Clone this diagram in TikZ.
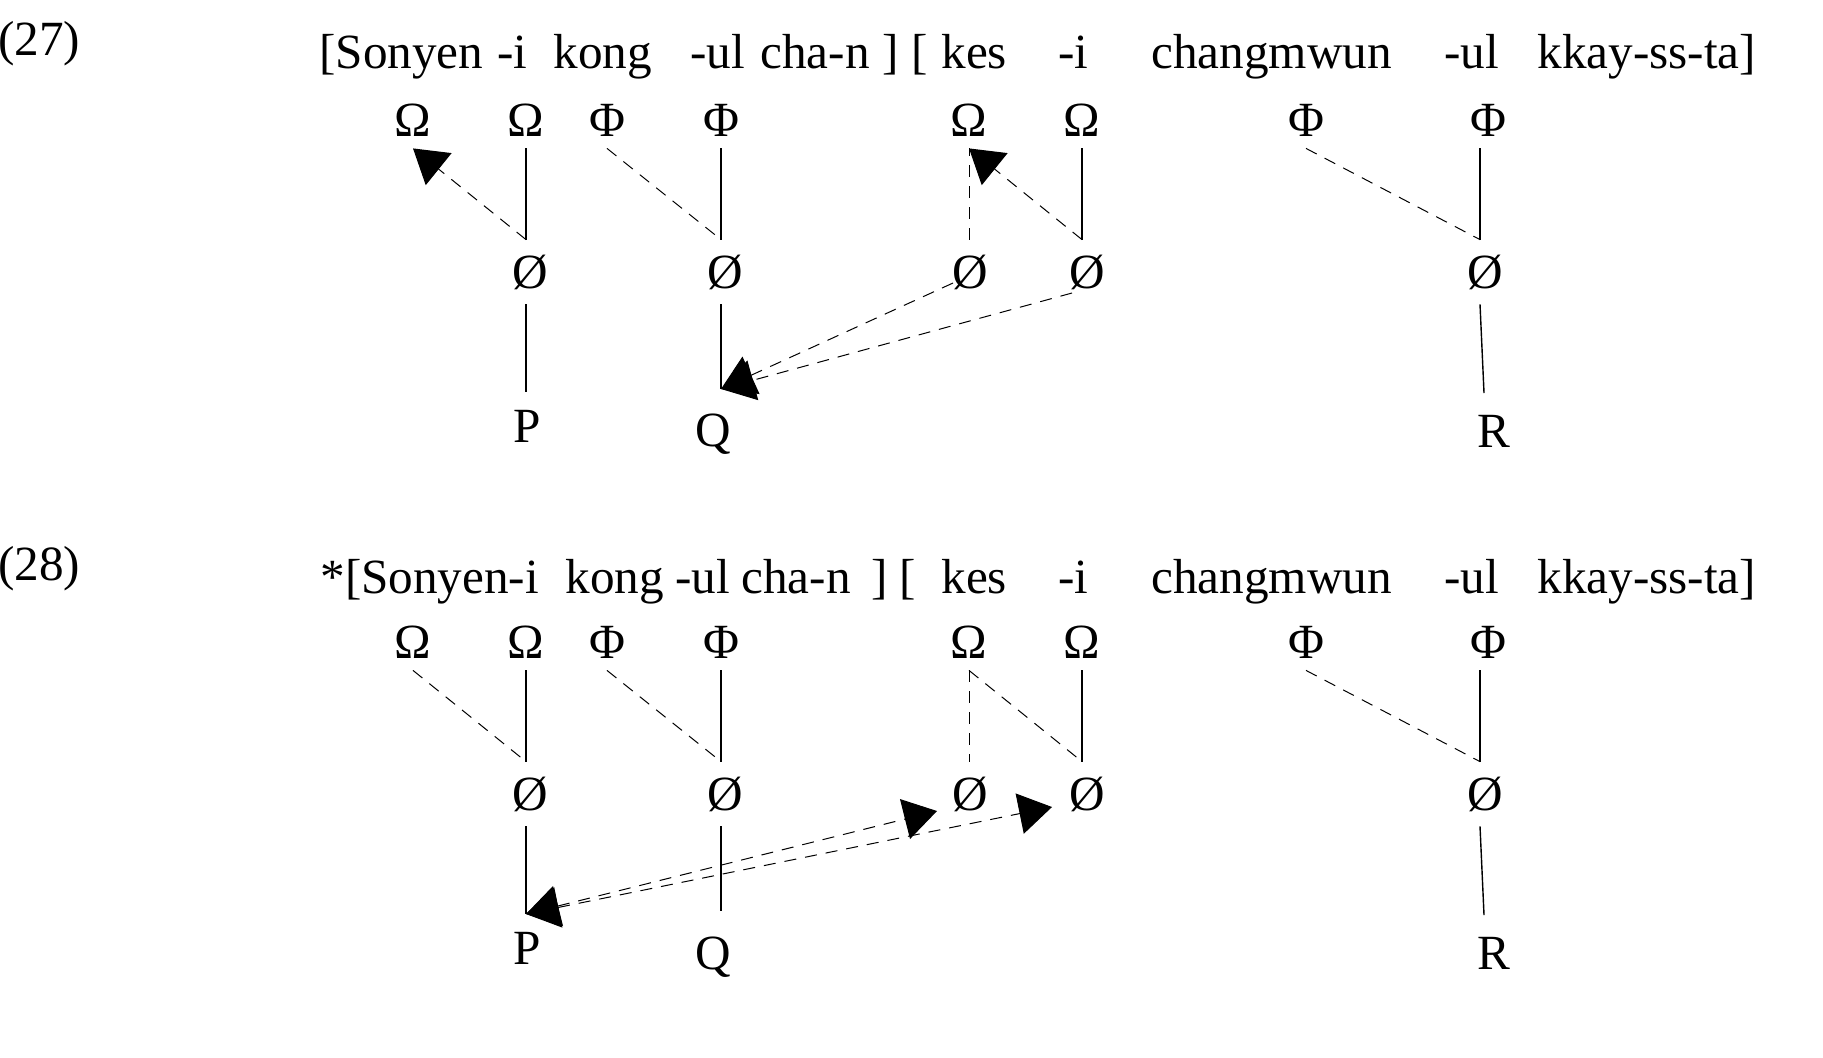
\documentclass[tikz,border=0pt]{standalone}
\usepackage{fontspec}
\setmainfont{Liberation Serif}
\usetikzlibrary{arrows.meta}
\begin{document}
\begin{tikzpicture}[x=0.5pt,y=-0.5pt,
  fnt/.style={font=\fontsize{24.6}{29}\selectfont},
  txt/.style={fnt, inner sep=0pt, anchor=base west},
  gk/.style={fnt, inner sep=0pt, minimum height=28pt},
  nul/.style={fnt, inner sep=0pt, minimum height=32pt},
  leaf/.style={fnt, inner xsep=0pt, anchor=north},
  solidl/.style={line width=0.7pt},
  dashl/.style={line width=0.5pt, dash pattern=on 6pt off 4.5pt},
  arr/.style={-{Triangle[length=16.5pt,width=20.5pt]}},
  darr/.style={{Triangle[length=16.5pt,width=20.5pt]}-{Triangle[length=16.5pt,width=20.5pt]}}
]
\useasboundingbox (0,0) rectangle (1823,1057);

% ---------------- (27) ----------------
\node[txt] (lab27) at (-2,55) {(27)};
\node[txt] (w1) at (319,68) {[Sonyen};
\node[txt] (w2) at (497,68) {-i};
\node[txt] (w3) at (553,68) {kong};
\node[txt] (w4) at (690,68) {-ul};
\node[txt] (w5) at (760,68) {cha-n};
\node[txt] (w6) at (882,68) {]};
\node[txt] (w7) at (911,68) {[};
\node[txt] (w8) at (941,68) {kes};
\node[txt] (w9) at (1058,68) {-i};
\node[txt] (w10) at (1151,68) {changmwun};
\node[txt] (w11) at (1444,68) {-ul};
\node[txt] (w12) at (1537,68) {kkay-ss-ta]};

\node[gk] (aO1) at (413,120) {Ω};
\node[gk] (aO2) at (526,120) {Ω};
\node[gk] (aF1) at (607,120) {Φ};
\node[gk] (aF2) at (721,120) {Φ};
\node[gk] (aO3) at (969,120) {Ω};
\node[gk] (aO4) at (1082,120) {Ω};
\node[gk] (aF3) at (1306,120) {Φ};
\node[gk] (aF4) at (1488,120) {Φ};

\node[nul] (aZ1) at (530,272) {Ø};
\node[nul] (aZ2) at (725,272) {Ø};
\node[nul] (aZ3) at (970,272) {Ø};
\node[nul] (aZ4) at (1087,272) {Ø};
\node[nul] (aZ5) at (1485,272) {Ø};

\node[leaf, inner ysep=9pt] (aP) at (527,392) {P};
\node[leaf, inner ysep=12.5pt] (aQ) at (713,389) {Q};
\node[leaf, inner ysep=11pt] (aR) at (1494,393) {R};

\draw[solidl] (aO2.south) -- (aO2.south |- aZ1.north);
\draw[dashl,arr] (aO2.south |- aZ1.north) -- (aO1.south);
\draw[dashl] (aF1.south) -- (aF2.south |- aZ2.north);
\draw[solidl] (aF2.south) -- (aF2.south |- aZ2.north);
\draw[solidl] (aO2.south |- aZ1.south) -- (aO2.south |- aP.north);
\draw[solidl] (aF2.south |- aZ2.south) -- (aF2.south |- aQ.north);
\draw[dashl] (aO3.south |- aZ3.north) -- (aO3.south);
\draw[dashl,arr] (aO4.south |- aZ4.north) -- (aO3.south);
\draw[solidl] (aO4.south) -- (aO4.south |- aZ4.north);
\draw[dashl,arr] ([shift={(-17,11)}]aZ3.center) -- (aF2.south |- aQ.north);
\draw[dashl,arr] ([shift={(-15,21)}]aZ4.center) -- (aF2.south |- aQ.north);
\draw[dashl] (aF3.south) -- ([xshift=-4pt]aF4.south |- aZ5.north);
\draw[solidl] ([xshift=-4pt]aF4.south) -- ([xshift=-4pt]aF4.south |- aZ5.north);
\draw[solidl] ([xshift=-4pt]aF4.south |- aZ5.south) -- ([xshift=-5pt]aR.north);

% ---------------- (28) ----------------
\node[txt] (lab28) at (-2,580) {(28)};
\node[txt] (v1) at (320,593) {*[Sonyen-i};
\node[txt] (v2) at (565,593) {kong};
\node[txt] (v3) at (675,593) {-ul};
\node[txt] (v4) at (741,593) {cha-n};
\node[txt] (v5) at (871,593) {]};
\node[txt] (v6) at (899,593) {[};
\node[txt] (v7) at (941,593) {kes};
\node[txt] (v8) at (1058,593) {-i};
\node[txt] (v9) at (1151,593) {changmwun};
\node[txt] (v10) at (1444,593) {-ul};
\node[txt] (v11) at (1537,593) {kkay-ss-ta]};

\node[gk] (bO1) at (413,642) {Ω};
\node[gk] (bO2) at (526,642) {Ω};
\node[gk] (bF1) at (607,642) {Φ};
\node[gk] (bF2) at (721,642) {Φ};
\node[gk] (bO3) at (969,642) {Ω};
\node[gk] (bO4) at (1082,642) {Ω};
\node[gk] (bF3) at (1306,642) {Φ};
\node[gk] (bF4) at (1488,642) {Φ};

\node[nul] (bZ1) at (530,794) {Ø};
\node[nul] (bZ2) at (725,794) {Ø};
\node[nul] (bZ3) at (970,794) {Ø};
\node[nul] (bZ4) at (1087,794) {Ø};
\node[nul] (bZ5) at (1485,794) {Ø};

\node[leaf, inner ysep=9pt] (bP) at (527,914) {P};
\node[leaf, inner ysep=12.5pt] (bQ) at (713,911) {Q};
\node[leaf, inner ysep=11pt] (bR) at (1494,915) {R};

\draw[dashl] (bO1.south) -- (bO2.south |- bZ1.north);
\draw[solidl] (bO2.south) -- (bO2.south |- bZ1.north);
\draw[dashl] (bF1.south) -- (bF2.south |- bZ2.north);
\draw[solidl] (bF2.south) -- (bF2.south |- bZ2.north);
\draw[solidl] (bO2.south |- bZ1.south) -- (bO2.south |- bP.north);
\draw[solidl] (bF2.south |- bZ2.south) -- (bF2.south |- bQ.north);
\draw[dashl] (bO3.south) -- (bO3.south |- bZ3.north);
\draw[dashl] (bO3.south) -- (bO4.south |- bZ4.north);
\draw[solidl] (bO4.south) -- (bO4.south |- bZ4.north);
\draw[dashl,darr] (bO2.south |- bP.north) -- ([shift={(-33,17)}]bZ3.center);
\draw[dashl,darr] (bO2.south |- bP.north) -- ([shift={(-35,13)}]bZ4.center);
\draw[dashl] (bF3.south) -- ([xshift=-4pt]bF4.south |- bZ5.north);
\draw[solidl] ([xshift=-4pt]bF4.south) -- ([xshift=-4pt]bF4.south |- bZ5.north);
\draw[solidl] ([xshift=-4pt]bF4.south |- bZ5.south) -- ([xshift=-5pt]bR.north);
\end{tikzpicture}
\end{document}
